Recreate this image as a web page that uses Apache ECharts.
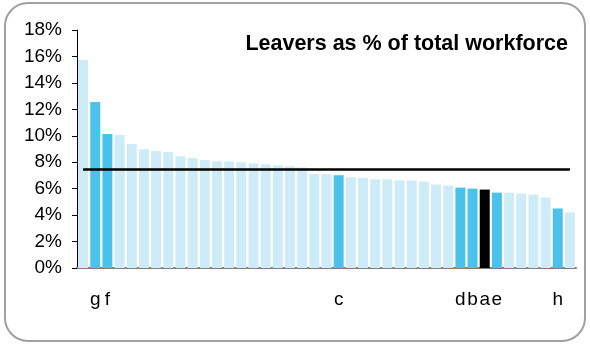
<!DOCTYPE html>
<html>
<head>
<meta charset="utf-8">
<script src="https://cdn.jsdelivr.net/npm/echarts@6/dist/echarts.min.js"></script>
<style>
html,body{margin:0;padding:0;background:#fff;}
#frame{position:absolute;left:4px;top:2px;width:582px;height:340px;border:2px solid #a0a0a0;border-radius:24px;box-sizing:border-box;}
#chart{position:absolute;left:0;top:0;width:590px;height:344px;}
</style>
</head>
<body>
<div id="frame"></div>
<div id="chart"></div>
<script>
const categories = ['', 'g', 'f', '', '', '', '', '', '', '', '', '', '', '', '', '', '', '', '', '', '', 'c', '', '', '', '', '', '', '', '', '', 'd', 'b', 'a', 'e', '', '', '', '', 'h', ''];
const values = [15.73, 12.55, 10.13, 10.05, 9.37, 8.99, 8.84, 8.77, 8.46, 8.31, 8.16, 8.08, 8.05, 8.0, 7.93, 7.85, 7.78, 7.7, 7.6, 7.1, 7.1, 7.02, 6.87, 6.8, 6.72, 6.72, 6.63, 6.62, 6.54, 6.31, 6.23, 6.08, 6.0, 5.93, 5.7, 5.7, 5.63, 5.55, 5.33, 4.5, 4.2];
const barType = ['l','h','h','l','l','l','l','l','l','l','l','l','l','l','l','l','l','l','l','l','l','h','l','l','l','l','l','l','l','l','l','h','h','k','h','l','l','l','l','h','l'];
const averageLevel = 7.45;
const yTicks = [0, 2, 4, 6, 8, 10, 12, 14, 16, 18];

const colorMap = {l: '#cdecf8', h: '#4bc2ec', k: '#000000'};
const chart = echarts.init(document.getElementById('chart'), null, {renderer: 'canvas'});
chart.setOption({
  animation: false,
  title: {
    text: 'Leavers as % of total workforce',
    right: 17, top: 28,
    textStyle: {fontFamily: 'Liberation Sans, Arial', fontWeight: 'bold', fontSize: 21.5, color: '#000'}
  },
  grid: {left: 77, right: 14, top: 30, bottom: 76, containLabel: false},
  xAxis: {
    type: 'category',
    data: categories,
    boundaryGap: true,
    axisLine: {lineStyle: {color: '#7f7f7f', width: 2}},
    axisTick: {show: false},
    axisLabel: {interval: 0, margin: 22, fontFamily: 'Liberation Sans, Arial', fontSize: 19, color: '#000'}
  },
  yAxis: {
    type: 'value',
    min: yTicks[0], max: yTicks[yTicks.length - 1], interval: 2,
    axisLine: {show: true, lineStyle: {color: '#000', width: 1}},
    axisTick: {show: true, inside: false, length: 5, lineStyle: {color: '#000'}},
    splitLine: {show: false},
    axisLabel: {formatter: '{value}%', margin: 15, fontFamily: 'Liberation Sans, Arial', fontSize: 19, color: '#000'}
  },
  series: [
    {
      type: 'bar',
      barWidth: 10,
      data: values.map((v, i) => ({value: v, itemStyle: {color: colorMap[barType[i]]}}))
    },
    {
      type: 'line',
      data: values.map(() => averageLevel),
      symbol: 'none',
      lineStyle: {color: '#000', width: 2.5},
      z: 5
    }
  ]
});
</script>
</body>
</html>
